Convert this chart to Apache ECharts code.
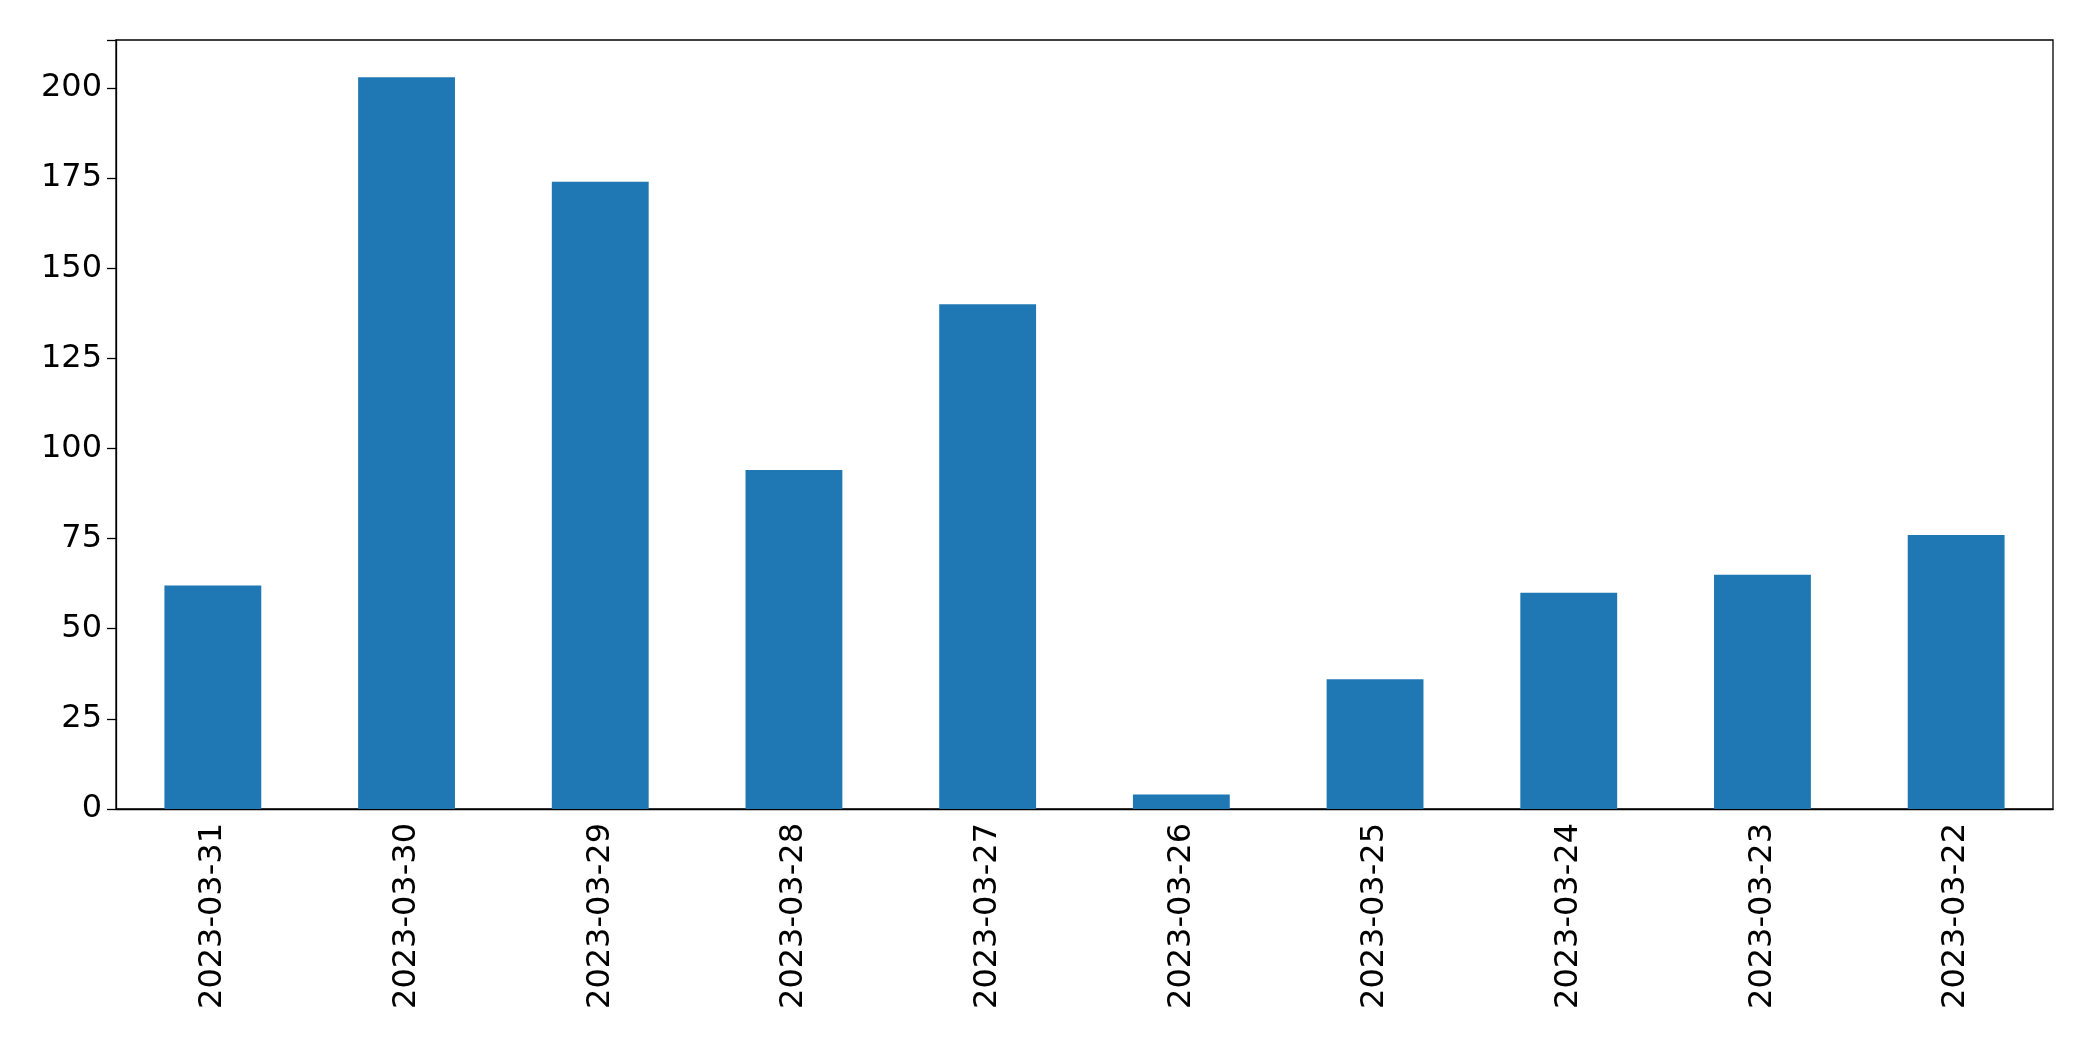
<!DOCTYPE html>
<html><head><meta charset="utf-8">
<script src="https://cdn.jsdelivr.net/npm/echarts@6/dist/echarts.min.js"></script>
<style>html,body{margin:0;padding:0;background:#fff}#c{width:2093px;height:1061px}</style>
</head><body><div id="c"></div>
<script>
const categories = ["2023-03-31","2023-03-30","2023-03-29","2023-03-28","2023-03-27","2023-03-26","2023-03-25","2023-03-24","2023-03-23","2023-03-22"];
const values = [62,203,174,94,140,4,36,60,65,76];
const yTicks = [0,25,50,75,100,125,150,175,200];
const chart = echarts.init(document.getElementById('c'));
chart.setOption({
  animation:false,
  grid:{left:116,right:40,top:40,bottom:252,show:true,borderColor:'#000',borderWidth:1.3},
  xAxis:{type:'category',data:categories,
    axisLine:{lineStyle:{color:'#000',width:1.3}},
    axisTick:{alignWithLabel:true,length:9,lineStyle:{color:'#000',width:1.3}},
    axisLabel:{rotate:90,fontSize:32,color:'#000',fontFamily:'DejaVu Sans',margin:14}},
  yAxis:{type:'value',min:0,max:213.3,interval:25,
    axisLine:{show:true,lineStyle:{color:'#000',width:1.3}},
    axisTick:{show:true,length:9,lineStyle:{color:'#000',width:1.3}},
    splitLine:{show:false},
    axisLabel:{fontSize:32,color:'#000',fontFamily:'DejaVu Sans',margin:14,
      formatter:v=>yTicks.includes(v)?String(v):''}},
  series:[{type:'bar',data:values,barWidth:'50%',itemStyle:{color:'#1f77b4'}}]
});
</script></body></html>
